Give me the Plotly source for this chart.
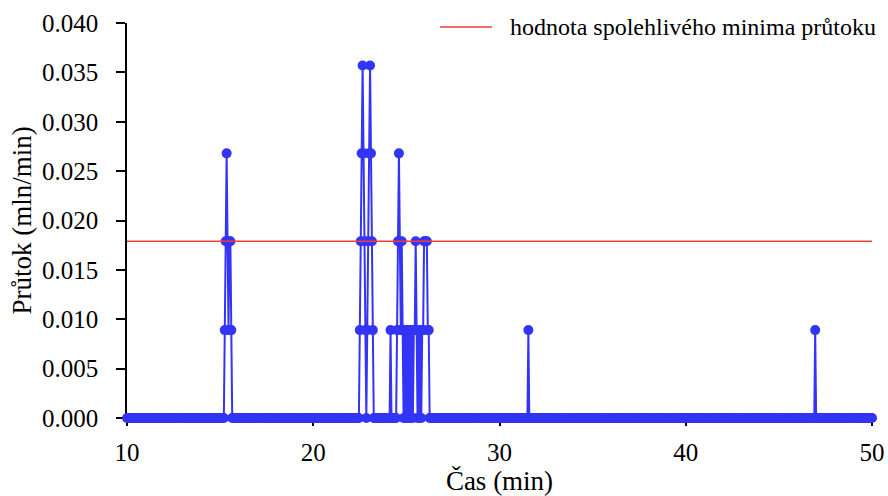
import numpy as np
import plotly.graph_objects as go

# sampling grid of the record (minutes)
t_start, t_end, t_step = 10.0, 50.0, 0.05

# non-zero flow samples (time in min, flow in mln/min)
spike_t = [15.25, 15.30, 15.35, 15.40, 15.45, 15.50, 15.55, 15.60,
           22.50, 22.55, 22.60, 22.65, 22.70, 22.75, 22.80, 22.90, 22.95, 23.00, 23.05, 23.10, 23.15, 23.20,
           24.15,
           24.50, 24.55, 24.60, 24.65, 24.70, 24.75, 24.80, 24.90, 25.00, 25.10, 25.20, 25.30, 25.40, 25.45,
           25.50, 25.55, 25.65, 25.75, 25.85, 25.90, 25.95, 26.00, 26.05, 26.10, 26.15, 26.20,
           31.55, 46.95]
spike_v = [0.0089, 0.0179, 0.0268, 0.0179, 0.0089, 0.0179, 0.0179, 0.0089,
           0.0089, 0.0179, 0.0268, 0.0357, 0.0268, 0.0179, 0.0089, 0.0089, 0.0179, 0.0268, 0.0357, 0.0268, 0.0179, 0.0089,
           0.0089,
           0.0089, 0.0179, 0.0268, 0.0179, 0.0089, 0.0179, 0.0089, 0.0089, 0.0089, 0.0089, 0.0089, 0.0089, 0.0089, 0.0089,
           0.0179, 0.0089, 0.0089, 0.0089, 0.0089, 0.0089, 0.0179, 0.0179, 0.0179, 0.0179, 0.0089, 0.0089,
           0.0089, 0.0089]

min_flow = 0.0179
legend_label = "hodnota spolehlivého minima průtoku"
x_title = "Čas (min)"
y_title = "Průtok (mln/min)"
x_ticks = [10, 20, 30, 40, 50]
y_ticks = [0.000, 0.005, 0.010, 0.015, 0.020, 0.025, 0.030, 0.035, 0.040]

n = int(round((t_end - t_start) / t_step)) + 1
t = t_start + t_step * np.arange(n)
flow = np.zeros(n)
for ts, v in zip(spike_t, spike_v):
    flow[int(round((ts - t_start) / t_step))] = v

FONT = "Liberation Serif"
BLUE = "#3434f6"
RED = "#f03c3c"

fig = go.Figure()
fig.add_trace(go.Scatter(
    x=t, y=flow, mode="lines+markers",
    line=dict(color=BLUE, width=2),
    marker=dict(color=BLUE, size=10),
    cliponaxis=False, showlegend=False, hoverinfo="x+y"))
fig.add_trace(go.Scatter(
    x=[t_start, t_end], y=[min_flow, min_flow], mode="lines",
    line=dict(color=RED, width=1.5), name=legend_label, showlegend=False))

# legend drawn as line sample + text
fig.add_shape(type="line", xref="paper", yref="paper",
              x0=0.4201, x1=0.4899, y0=0.99, y1=0.99,
              line=dict(color=RED, width=1.5))
fig.add_annotation(xref="paper", yref="paper", x=0.5114, y=0.99,
                   xanchor="left", yanchor="middle", showarrow=False,
                   text=legend_label, font=dict(family=FONT, size=24, color="black"))

fig.update_layout(
    width=888, height=496,
    margin=dict(l=127, r=16, t=23, b=78, autoexpand=False),
    paper_bgcolor="white", plot_bgcolor="white",
    font=dict(family=FONT, color="black"),
    xaxis=dict(range=[t_start, t_end], tickvals=x_ticks, ticktext=[str(v) for v in x_ticks],
               showgrid=False, zeroline=False, showline=True, linecolor="black", linewidth=1.5,
               ticks="outside", ticklen=6, tickcolor="black", tickwidth=1.5,
               ticklabelstandoff=5,
               tickfont=dict(family=FONT, size=25, color="black"),
               title=dict(text=x_title, font=dict(family=FONT, size=27, color="black"), standoff=4),
               layer="below traces"),
    yaxis=dict(range=[0, 0.04], tickvals=y_ticks, ticktext=[f"{v:.3f}" for v in y_ticks],
               showgrid=False, zeroline=False, showline=True, linecolor="black", linewidth=1.5,
               ticks="outside", ticklen=9, tickcolor="black", tickwidth=1.5,
               ticklabelstandoff=13,
               tickfont=dict(family=FONT, size=25, color="black"),
               title=dict(text=y_title, font=dict(family=FONT, size=27, color="black"), standoff=3),
               layer="below traces"),
)

fig.write_html("out.html")
